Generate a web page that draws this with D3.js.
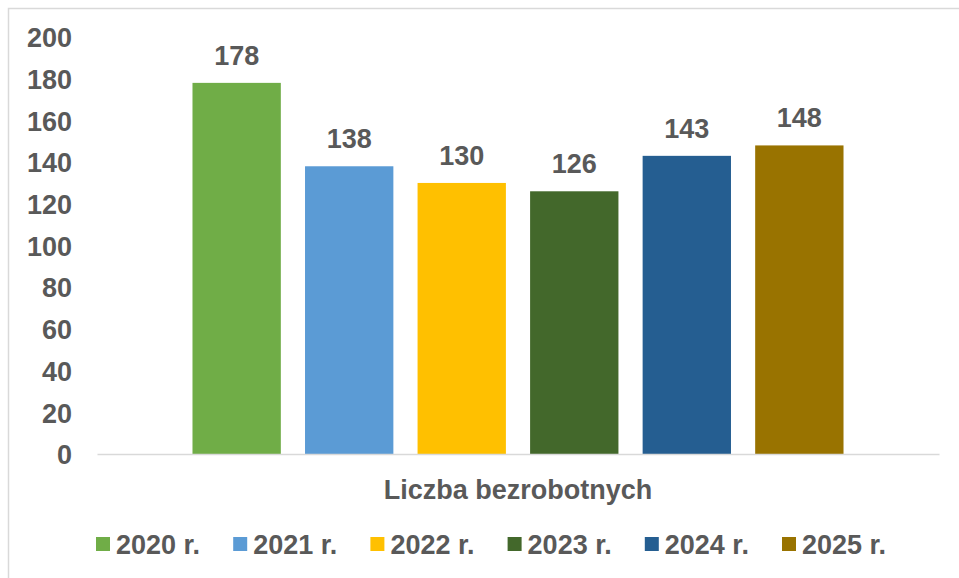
<!DOCTYPE html>
<html>
<head>
<meta charset="utf-8">
<script src="https://cdn.jsdelivr.net/npm/d3@7"></script>
<style>
  html, body { margin: 0; padding: 0; background: #fff; }
  svg { display: block; }
  text { font-family: "Liberation Sans", Arial, sans-serif; font-weight: bold; fill: #595959; }
</style>
</head>
<body>
<script>
const categories = ["Liczba bezrobotnych"];
const years = ["2020 r.", "2021 r.", "2022 r.", "2023 r.", "2024 r.", "2025 r."];
const values = [178, 138, 130, 126, 143, 148];
const colors = ["#70AD47", "#5B9BD5", "#FFC000", "#43682B", "#255E91", "#997300"];
const yTicks = [0, 20, 40, 60, 80, 100, 120, 140, 160, 180, 200];

const W = 959, H = 578;
const svg = d3.select("body").append("svg").attr("width", W).attr("height", H);

// chart frame
svg.append("rect")
  .attr("x", 8.5).attr("y", 8.5)
  .attr("width", 1000).attr("height", 1000)
  .attr("fill", "#fff").attr("stroke", "#d9d9d9").attr("stroke-width", 1.5);

const x0 = d3.scaleBand().domain(categories).range([97, 939]).paddingInner(0).paddingOuter(0.1235);
const x1 = d3.scaleBand().domain(years).range([0, x0.bandwidth()]).paddingInner(0.215).paddingOuter(0.1075);
const y = d3.scaleLinear().domain([0, 200]).range([454, 37]);

// y axis labels
const yAxis = d3.axisLeft(y).tickValues(yTicks).tickSize(0).tickPadding(0);
const gy = svg.append("g").attr("transform", "translate(72,0)").call(yAxis);
gy.select(".domain").remove();
gy.selectAll("text")
  .attr("font-size", 27)
  .attr("font-family", "'Liberation Sans', Arial, sans-serif")
  .attr("font-weight", "bold")
  .attr("fill", "#595959")
  .attr("dy", "0.36em");

// bars
const data = years.map((yr, i) => ({ yr, v: values[i], c: colors[i], cat: categories[0] }));
const g = svg.append("g");
g.selectAll("rect.bar").data(data).enter().append("rect")
  .attr("class", "bar")
  .attr("x", d => x0(d.cat) + x1(d.yr))
  .attr("width", x1.bandwidth())
  .attr("y", d => y(d.v))
  .attr("height", d => y(0) - y(d.v))
  .attr("fill", d => d.c);

// data labels
g.selectAll("text.lbl").data(data).enter().append("text")
  .attr("class", "lbl")
  .attr("x", d => x0(d.cat) + x1(d.yr) + x1.bandwidth() / 2)
  .attr("y", d => y(d.v) - 18)
  .attr("text-anchor", "middle")
  .attr("font-size", 27)
  .text(d => d.v);

// x axis baseline + category label
const xAxis = d3.axisBottom(x0).tickSize(0).tickPadding(0);
const gx = svg.append("g").attr("transform", `translate(0,${y(0)})`).call(xAxis);
gx.select(".domain").attr("stroke", "#d9d9d9").attr("stroke-width", 1.5);
gx.selectAll("text")
  .attr("font-size", 27)
  .attr("font-family", "'Liberation Sans', Arial, sans-serif")
  .attr("font-weight", "bold")
  .attr("fill", "#595959")
  .attr("dy", "0")
  .attr("y", 45);

// legend
const legStart = 96, legStep = 137.2;
const leg = svg.append("g").attr("transform", "translate(0,537)");
const li = leg.selectAll("g").data(data).enter().append("g")
  .attr("transform", (d, i) => `translate(${legStart + i * legStep},0)`);
li.append("rect").attr("width", 14).attr("height", 14).attr("fill", d => d.c);
li.append("text").attr("x", 20).attr("y", 7).attr("dy", "0.36em")
  .attr("font-size", 27).text(d => d.yr);
</script>
</body>
</html>
